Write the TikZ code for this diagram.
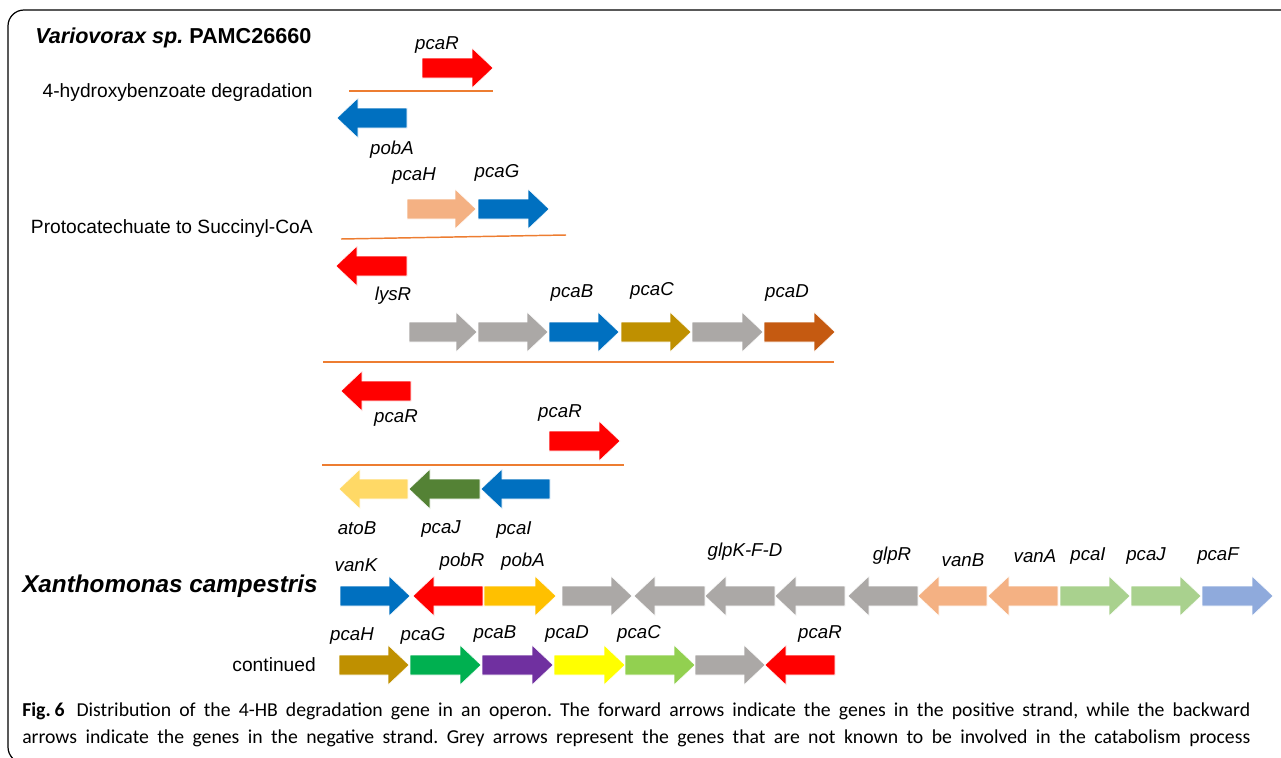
\documentclass[tikz,border=0pt]{standalone}
\usepackage{fontspec}
\setmainfont{Liberation Sans}
\newfontfamily\capfont{Carlito}
\usepackage{xcolor}
\usetikzlibrary{positioning}
\frenchspacing

\definecolor{gred}{HTML}{FF0000}
\definecolor{gblue}{HTML}{0070C0}
\definecolor{gsalmon}{HTML}{F4B183}
\definecolor{golive}{HTML}{BF9000}
\definecolor{gbrown}{HTML}{C55A11}
\definecolor{gsand}{HTML}{FFD966}
\definecolor{gdkgreen}{HTML}{548235}
\definecolor{ggold}{HTML}{FFC000}
\definecolor{ggrey}{HTML}{ABA8A6}
\definecolor{gltgreen}{HTML}{A9D18E}
\definecolor{gltblue}{HTML}{8FAADC}
\definecolor{ggreen}{HTML}{00B050}
\definecolor{gpurple}{HTML}{7030A0}
\definecolor{gyellow}{HTML}{FFFF00}
\definecolor{glime}{HTML}{92D050}
\definecolor{strandline}{HTML}{ED7D31}

% gene arrows: start x, end x, centre y, colour
\newcommand{\fwdgene}[4]{\filldraw[genebody, fill=#4] (#1,#3-10) -- (#2-21,#3-10) -- (#2-21,#3-20) -- (#2,#3) -- (#2-21,#3+20) -- (#2-21,#3+10) -- (#1,#3+10) -- cycle;}
\newcommand{\revgene}[4]{\filldraw[genebody, fill=#4] (#2,#3-10) -- (#1+21,#3-10) -- (#1+21,#3-20) -- (#1,#3) -- (#1+21,#3+20) -- (#1+21,#3+10) -- (#2,#3+10) -- cycle;}

\begin{document}
\begin{tikzpicture}[
    x=0.75pt, y=-0.75pt,
    every node/.style={font=\fontsize{14.4}{16}\selectfont, inner sep=0pt},
    gene/.style={font=\fontsize{14}{16}\selectfont\itshape},
    species/.style={font=\fontsize{16.2}{18}\selectfont\bfseries, anchor=west},
    pathway/.style={anchor=east},
    genebody/.style={draw=white, line width=0.4pt},
    strand/.style={draw=strandline, line width=1.1pt},
    caption/.style={font=\capfont\fontsize{14.8}{16}\selectfont, anchor=west}
]
\useasboundingbox (0,0) rectangle (1281,757);

% frame
\draw[line width=0.9pt, rounded corners=12] (1290,10) -- (8,10) -- (8,763) -- (40,763);

% Variovorax
\node (title) [species] at (35,38) {\textit{Variovorax sp.} PAMC26660};

\node (hbdeg) [pathway] at (313,93) {4-hydroxybenzoate degradation};
\draw[strand] (349,91) -- (493,91);
\fwdgene{422}{493}{68}{gred}
\revgene{337}{407}{118}{gblue}
\node (lpcaR1) [gene] at (437,45) {pcaR};
\node (lpobA1) [gene] at (392,150) {pobA};

\node (pcasuc) [pathway] at (313,229) {Protocatechuate to Succinyl-CoA};
\draw[strand] (341,239) -- (566,235);
\fwdgene{407}{476}{209}{gsalmon}
\fwdgene{478}{549}{209}{gblue}
\revgene{336}{407}{266}{gred}
\node (lpcaH1) [gene] at (414,176) {pcaH};
\node (lpcaG1) [gene] at (497,173) {pcaG};
\node (llysR) [gene] at (393,296) {lysR};

\fwdgene{409}{477}{332}{ggrey}
\fwdgene{478}{548}{332}{ggrey}
\fwdgene{549}{619}{332}{gblue}
\fwdgene{621}{691}{332}{golive}
\fwdgene{692}{763}{332}{ggrey}
\fwdgene{764}{835}{332}{gbrown}
\node (lpcaB1) [gene] at (572,293) {pcaB};
\node (lpcaC1) [gene] at (652,291) {pcaC};
\node (lpcaD1) [gene] at (787,293) {pcaD};
\draw[strand] (323,362) -- (834,362);
\revgene{341}{411}{391}{gred}
\node (lpcaR2) [gene] at (396,418) {pcaR};

\fwdgene{549}{620}{441}{gred}
\node (lpcaR3) [gene] at (560,413) {pcaR};
\draw[strand] (322,465) -- (624,465);
\revgene{339}{408}{489}{gsand}
\revgene{409}{480}{489}{gdkgreen}
\revgene{481}{550}{489}{gblue}
\node (latoB) [gene] at (357,528) {atoB};
\node (lpcaJ1) [gene] at (441,529) {pcaJ};
\node (lpcaI1) [gene] at (514,530) {pcaI};

% Xanthomonas
\node (xantho) [species, font=\fontsize{18.2}{20}\selectfont\bfseries\itshape] at (22,586) {Xanthomonas campestris};
\fwdgene{340}{410}{596}{gblue}
\revgene{413}{483}{596}{gred}
\fwdgene{484}{556}{596}{ggold}
\fwdgene{562}{632}{596}{ggrey}
\revgene{634}{705}{596}{ggrey}
\revgene{705}{775}{596}{ggrey}
\revgene{775}{845}{596}{ggrey}
\revgene{848}{918}{596}{ggrey}
\revgene{918}{987}{596}{gsalmon}
\revgene{988}{1058}{596}{gsalmon}
\fwdgene{1060}{1130}{596}{gltgreen}
\fwdgene{1131}{1201}{596}{gltgreen}
\fwdgene{1202}{1273}{596}{gltblue}
\node (lvanK) [gene] at (356,565) {vanK};
\node (lpobR) [gene] at (462,562) {pobR};
\node (lpobA2) [gene] at (523,562) {pobA};
\node (lglpKFD) [gene] at (745,552) {glpK-F-D};
\node (lglpR) [gene] at (892,556) {glpR};
\node (lvanB) [gene] at (963,560) {vanB};
\node (lvanA) [gene] at (1035,556) {vanA};
\node (lpcaI2) [gene] at (1088,556) {pcaI};
\node (lpcaJ2) [gene] at (1146,556) {pcaJ};
\node (lpcaF) [gene] at (1218,556) {pcaF};

\node (contd) [pathway] at (316,665) {continued};
\fwdgene{339}{409}{665}{golive}
\fwdgene{410}{481}{665}{ggreen}
\fwdgene{482}{553}{665}{gpurple}
\fwdgene{554}{625}{665}{gyellow}
\fwdgene{625}{695}{665}{glime}
\fwdgene{695}{765}{665}{ggrey}
\revgene{765}{835}{665}{gred}
\node (lpcaH2) [gene] at (352,636) {pcaH};
\node (lpcaG2) [gene] at (423,636) {pcaG};
\node (lpcaB2) [gene] at (495,634) {pcaB};
\node (lpcaD2) [gene] at (567,634) {pcaD};
\node (lpcaC2) [gene] at (639,634) {pcaC};
\node (lpcaR4) [gene] at (820,634) {pcaR};

% caption
\node (cap1) [caption] at (22,711) {\makebox[921pt][s]{\textbf{Fig.\kern0.2em6}\kern0.6em Distribution of the 4-HB degradation gene in an operon. The forward arrows indicate the genes in the positive strand, while the backward}};
\node (cap2) [caption] at (22,738) {\makebox[921pt][s]{arrows indicate the genes in the negative strand. Grey arrows represent the genes that are not known to be involved in the catabolism process}};
\end{tikzpicture}
\end{document}
